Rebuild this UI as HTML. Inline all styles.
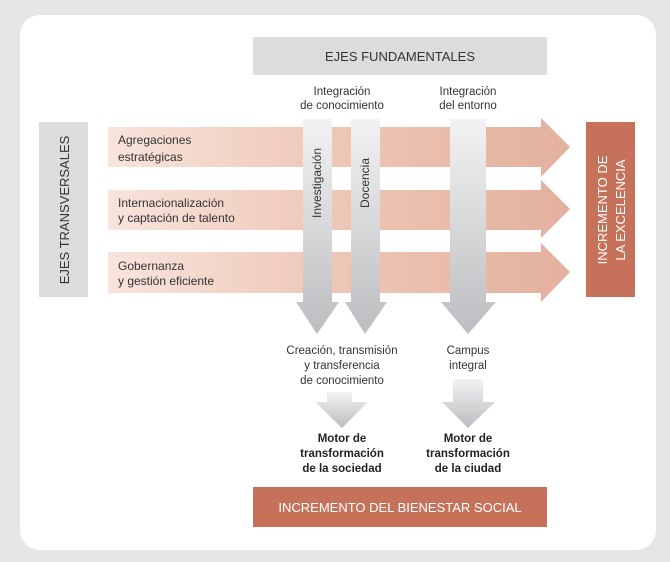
<!DOCTYPE html>
<html><head><meta charset="utf-8"><style>
body{margin:0;width:670px;height:562px;background:#e6e6e6;font-family:"Liberation Sans",sans-serif;overflow:hidden}
.card{position:absolute;left:20px;top:15px;width:636px;height:535px;background:#fff;border-radius:20px}
svg{position:absolute;left:0;top:0}
</style></head><body>
<div class="card"></div>
<svg width="670" height="562" viewBox="0 0 670 562">
<defs>
<linearGradient id="pk" x1="0" x2="1" y1="0" y2="0">
<stop offset="0" stop-color="#f8e4dc"/><stop offset="0.5" stop-color="#eec6b6"/><stop offset="1" stop-color="#e3b09d"/></linearGradient>
<linearGradient id="gy" x1="0" x2="0" y1="0" y2="1">
<stop offset="0" stop-color="#f2f2f3"/><stop offset="1" stop-color="#bcbdc0"/></linearGradient>
</defs>
<rect x="253" y="37" width="294" height="38" fill="#dcdcde"/>
<text x="400" y="61" font-size="13" text-anchor="middle" fill="#333">EJES FUNDAMENTALES</text>
<g font-size="11.5" fill="#333" text-anchor="middle">
<text x="342" y="95">Integración</text><text x="342" y="109">de conocimiento</text>
<text x="468" y="95">Integración</text><text x="468" y="109">del entorno</text>
</g>
<rect x="39" y="122" width="49" height="175" fill="#dcdcde"/>
<text transform="translate(69,210) rotate(-90)" font-size="13" text-anchor="middle" fill="#333">EJES TRANSVERSALES</text>
<polygon points="108,127 541,127 541,118 570,147 541,177 541,167 108,167" fill="url(#pk)"/>
<polygon points="108,190 541,190 541,180 570,209 541,238 541,230 108,230" fill="url(#pk)"/>
<polygon points="108,252 541,252 541,243 570,272 541,302 541,293 108,293" fill="url(#pk)"/>
<g font-size="12" fill="#333">
<text x="118" y="144">Agregaciones</text><text x="118" y="161">estratégicas</text>
<text x="118" y="207">Internacionalización</text><text x="118" y="222">y captación de talento</text>
<text x="118" y="270">Gobernanza</text><text x="118" y="285">y gestión eficiente</text>
</g>
<rect x="586" y="122" width="49" height="175" fill="#c6725a"/>
<g font-size="13" fill="#fff" text-anchor="middle">
<text transform="translate(607,210) rotate(-90)">INCREMENTO DE</text>
<text transform="translate(625,210) rotate(-90)">LA EXCELENCIA</text>
</g>
<polygon points="303,119 332,119 332,302 339,302 317,334 296,302 303,302" fill="url(#gy)"/>
<polygon points="351,119 380,119 380,302 387,302 365,334 345,302 351,302" fill="url(#gy)"/>
<polygon points="450,119 486,119 486,302 496,302 468,334 441,302 450,302" fill="url(#gy)"/>
<g font-size="12" fill="#333" text-anchor="middle">
<text transform="translate(321,183) rotate(-90)">Investigación</text>
<text transform="translate(369,183) rotate(-90)">Docencia</text>
</g>
<g font-size="11.5" fill="#333" text-anchor="middle">
<text x="342" y="354">Creación, transmisión</text><text x="342" y="369">y transferencia</text><text x="342" y="384">de conocimiento</text>
<text x="468" y="354">Campus</text><text x="468" y="369">integral</text>
</g>
<polygon points="327,392 352,392 352,402 368,402 342,428 315,402 327,402" fill="url(#gy)"/>
<polygon points="453,379 483,379 483,402 495,402 468,428 442,402 453,402" fill="url(#gy)"/>
<g font-size="11.5" fill="#222" text-anchor="middle" font-weight="bold">
<text x="342" y="442">Motor de</text><text x="342" y="457">transformación</text><text x="342" y="472">de la sociedad</text>
<text x="468" y="442">Motor de</text><text x="468" y="457">transformación</text><text x="468" y="472">de la ciudad</text>
</g>
<rect x="253" y="487" width="294" height="40" fill="#c6725a"/>
<text x="400" y="512" font-size="13" text-anchor="middle" fill="#fff">INCREMENTO DEL BIENESTAR SOCIAL</text>
</svg>
</body></html>
